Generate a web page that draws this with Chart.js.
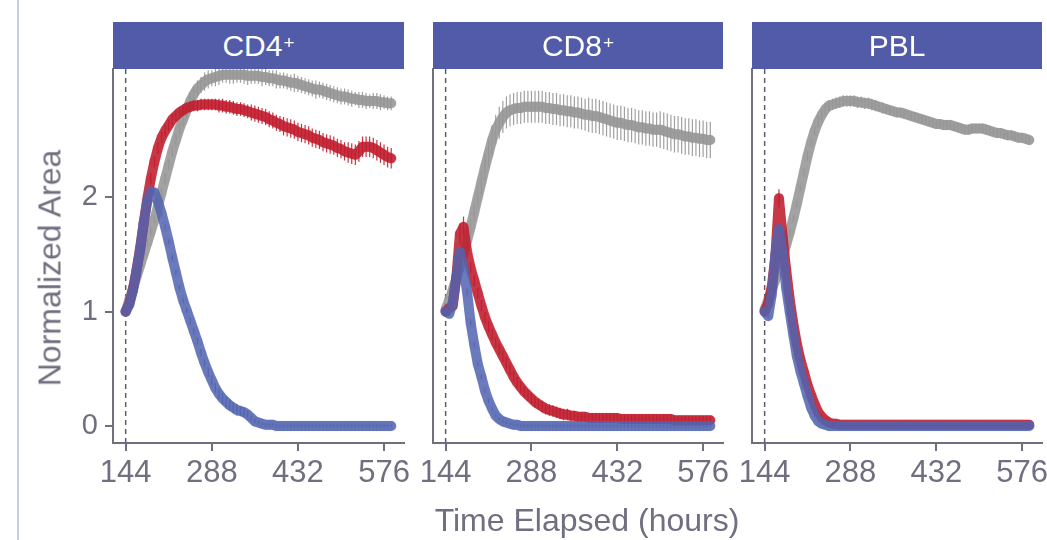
<!DOCTYPE html>
<html>
<head>
<meta charset="utf-8">
<script src="https://cdn.jsdelivr.net/npm/chart.js@4.4.1/dist/chart.umd.min.js"></script>
<style>
  html, body { margin: 0; padding: 0; background: #fff; overflow: hidden; }
  body { width: 1047px; height: 540px; position: relative; font-family: "Liberation Sans", Arial, sans-serif; }
  canvas { position: absolute; top: 0; }
  .edge { position: absolute; left: 17px; top: 0; width: 2px; height: 540px; background: #c8cdea; }
  .strip { position: absolute; top: 22px; height: 47px; background: #525ba7; color: #fff;
           font-size: 30px; display: flex; align-items: center; justify-content: center; }
  .strip sup { font-size: 19px; position: relative; top: -3px; margin-left: 1px; }
  .ytitle { position: absolute; left: 50px; top: 268px; transform: translate(-50%, -50%) rotate(-90deg);
            white-space: nowrap; font-size: 32px; color: #6f6f80; }
  .xtitle { position: absolute; left: 587px; top: 520px; transform: translate(-50%, -50%);
            white-space: nowrap; font-size: 32px; color: #6f6f80; }
</style>
</head>
<body>
<div class="edge"></div>
<canvas id="p1" width="420" height="540" style="left:0px"></canvas>
<canvas id="p2" width="330" height="540" style="left:410px"></canvas>
<canvas id="p3" width="330" height="540" style="left:730px"></canvas>
<div class="strip" style="left:113px;width:291px">CD4<sup>+</sup></div>
<div class="strip" style="left:433px;width:290px">CD8<sup>+</sup></div>
<div class="strip" style="left:752px;width:290px">PBL</div>
<div class="ytitle">Normalized Area</div>
<div class="xtitle">Time Elapsed (hours)</div>
<script>
// time points (hours)
const hours = [144,150,156,162,168,174,180,186,192,198,
  204,210,216,222,228,234,240,246,252,258,
  264,270,276,282,288,294,300,306,312,318,
  324,330,336,342,348,354,360,366,372,378,
  384,390,396,402,408,414,420,426,432,438,
  444,450,456,462,468,474,480,486,492,498,
  504,510,516,522,528,534,540,546,552,558,
  564,570,576,582,588]

const xTicks = [144, 288, 432, 576]
const yTicks = [0, 1, 2]

// CD4+
const cd4Gray = [1.00,1.10,1.20,1.30,1.40,1.50,1.60,1.70,1.80,1.92,
  2.04,2.16,2.28,2.40,2.50,2.60,2.68,2.76,2.84,2.90,
  2.95,2.98,3.01,3.03,3.04,3.05,3.06,3.07,3.07,3.07,
  3.07,3.07,3.07,3.07,3.06,3.06,3.06,3.06,3.05,3.05,
  3.04,3.04,3.03,3.02,3.02,3.01,3.00,3.00,2.99,2.98,
  2.97,2.96,2.95,2.94,2.94,2.93,2.92,2.91,2.90,2.89,
  2.88,2.88,2.87,2.86,2.86,2.85,2.85,2.84,2.84,2.84,
  2.84,2.83,2.83,2.82,2.82]
const cd4GrayErr = [.02,.02,.02,.02,.02,.03,.03,.03,.03,.04,
  .04,.05,.05,.05,.06,.06,.06,.07,.07,.07,
  .07,.07,.08,.08,.07,.08,.08,.07,.07,.08,
  .08,.07,.07,.08,.08,.07,.07,.07,.08,.07,
  .07,.07,.08,.07,.07,.07,.07,.08,.07,.07,
  .07,.07,.07,.08,.07,.07,.07,.07,.07,.07,
  .07,.07,.07,.07,.06,.07,.07,.07,.06,.07,
  .07,.07,.06,.06,.06]
const cd4Red = [1.00,1.07,1.19,1.36,1.55,1.77,1.98,2.16,2.31,2.43,
  2.52,2.58,2.63,2.68,2.71,2.74,2.76,2.78,2.79,2.80,
  2.80,2.81,2.81,2.81,2.81,2.81,2.80,2.80,2.79,2.79,
  2.78,2.77,2.77,2.76,2.75,2.74,2.73,2.72,2.71,2.70,
  2.68,2.67,2.65,2.64,2.62,2.61,2.60,2.59,2.57,2.56,
  2.55,2.54,2.52,2.51,2.50,2.48,2.47,2.46,2.45,2.43,
  2.42,2.40,2.39,2.38,2.37,2.40,2.44,2.44,2.44,2.43,
  2.41,2.39,2.37,2.35,2.34]
const cd4RedErr = [.02,.03,.03,.03,.04,.04,.04,.05,.05,.05,
  .05,.05,.05,.05,.05,.05,.05,.05,.05,.05,
  .05,.05,.05,.05,.05,.05,.06,.06,.06,.06,
  .06,.06,.06,.06,.06,.07,.07,.07,.07,.07,
  .07,.07,.07,.07,.08,.08,.08,.08,.08,.08,
  .08,.08,.08,.08,.08,.08,.08,.08,.08,.08,
  .08,.08,.09,.09,.09,.09,.09,.09,.09,.09,
  .09,.09,.09,.09,.09]
const cd4Blue = [1.00,1.06,1.18,1.35,1.53,1.77,1.96,2.05,2.04,1.96,
  1.86,1.74,1.61,1.47,1.34,1.21,1.10,1.01,0.92,0.83,
  0.74,0.64,0.55,0.47,0.40,0.33,0.28,0.24,0.21,0.18,
  0.16,0.14,0.13,0.12,0.10,0.07,0.04,0.03,0.02,0.01,
  0.01,0.01,0.00,0.00,0.00,0.00,0.00,0.00,0.00,0.00,
  0.00,0.00,0.00,0.00,0.00,0.00,0.00,0.00,0.00,0.00,
  0.00,0.00,0.00,0.00,0.00,0.00,0.00,0.00,0.00,0.00,
  0.00,0.00,0.00,0.00,0.00]
const cd4BlueErr = [.02,.02,.02,.03,.03,.03,.03,.03,.03,.02,
  .02,.02,.02,.02,.02,.02,.02,.02,.03,.03,
  .03,.03,.03,.04,.04,.04,.05,.05,.05,.05,
  .05,.05,.04,.04,.03,.02,.02,.01,.01,.01,
  .01,.01,.01,.01,.01,.01,.01,.01,.01,.01,
  .01,.01,.01,.01,.01,.01,.01,.01,.01,.01,
  .01,.01,.01,.01,.01,.01,.01,.01,.01,.01,
  .01,.01,.01,.01,.01]

// CD8+
const cd8Gray = [1.02,1.10,1.19,1.29,1.40,1.51,1.62,1.74,1.87,2.00,
  2.13,2.26,2.38,2.50,2.59,2.65,2.70,2.74,2.76,2.77,
  2.78,2.78,2.79,2.79,2.79,2.79,2.79,2.79,2.78,2.78,
  2.77,2.77,2.76,2.76,2.75,2.75,2.74,2.74,2.73,2.72,
  2.72,2.71,2.71,2.70,2.69,2.68,2.67,2.66,2.65,2.65,
  2.64,2.63,2.63,2.62,2.61,2.61,2.60,2.60,2.59,2.59,
  2.59,2.58,2.57,2.56,2.55,2.55,2.54,2.53,2.53,2.52,
  2.52,2.51,2.51,2.50,2.50]
const cd8GrayErr = [.03,.03,.04,.04,.05,.05,.06,.07,.08,.09,
  .10,.11,.12,.13,.13,.14,.14,.14,.14,.14,
  .14,.14,.14,.14,.14,.14,.14,.14,.14,.14,
  .14,.14,.14,.14,.14,.14,.14,.14,.14,.14,
  .15,.15,.15,.15,.15,.15,.15,.15,.15,.15,
  .15,.15,.15,.15,.15,.15,.15,.15,.15,.15,
  .16,.16,.16,.16,.16,.16,.16,.16,.16,.16,
  .16,.16,.16,.16,.16]
const cd8Red = [1.00,1.03,1.05,1.30,1.68,1.74,1.52,1.38,1.27,1.16,
  1.05,0.95,0.87,0.80,0.73,0.67,0.61,0.55,0.49,0.43,
  0.38,0.34,0.30,0.27,0.24,0.21,0.19,0.17,0.15,0.14,
  0.13,0.12,0.11,0.10,0.10,0.09,0.09,0.08,0.08,0.08,
  0.07,0.07,0.07,0.07,0.07,0.07,0.07,0.07,0.07,0.06,
  0.06,0.06,0.06,0.06,0.06,0.06,0.06,0.06,0.06,0.06,
  0.06,0.06,0.06,0.06,0.05,0.05,0.05,0.05,0.05,0.05,
  0.05,0.05,0.05,0.05,0.05]
const cd8RedErr = [.02,.03,.04,.06,.09,.09,.06,.05,.05,.05,
  .05,.05,.05,.05,.05,.05,.05,.05,.05,.05,
  .05,.05,.05,.05,.05,.05,.05,.05,.05,.05,
  .05,.05,.05,.05,.05,.04,.04,.04,.04,.04,
  .04,.04,.04,.04,.04,.04,.04,.04,.04,.04,
  .04,.04,.04,.04,.04,.04,.04,.04,.04,.04,
  .04,.04,.04,.04,.04,.04,.04,.04,.04,.04,
  .04,.04,.04,.04,.04]
const cd8Blue = [1.00,0.98,1.08,1.30,1.52,1.38,1.17,0.90,0.71,0.54,
  0.43,0.31,0.22,0.15,0.09,0.06,0.04,0.03,0.02,0.01,
  0.01,0.00,0.00,0.00,0.00,0.00,0.00,0.00,0.00,0.00,
  0.00,0.00,0.00,0.00,0.00,0.00,0.00,0.00,0.00,0.00,
  0.00,0.00,0.00,0.00,0.00,0.00,0.00,0.00,0.00,0.00,
  0.00,0.00,0.00,0.00,0.00,0.00,0.00,0.00,0.00,0.00,
  0.00,0.00,0.00,0.00,0.00,0.00,0.00,0.00,0.00,0.00,
  0.00,0.00,0.00,0.00,0.00]
const cd8BlueErr = [.02,.02,.02,.03,.04,.03,.03,.02,.02,.02,
  .02,.02,.02,.02,.01,.01,.01,.01,.01,.01,
  .01,.01,.01,.01,.01,.01,.01,.01,.01,.01,
  .01,.01,.01,.01,.01,.01,.01,.01,.01,.01,
  .01,.01,.01,.01,.01,.01,.01,.01,.01,.01,
  .01,.01,.01,.01,.01,.01,.01,.01,.01,.01,
  .01,.01,.01,.01,.01,.01,.01,.01,.01,.01,
  .01,.01,.01,.01,.01]

// PBL
const pblGray = [1.02,1.10,1.19,1.28,1.38,1.47,1.58,1.69,1.81,1.94,
  2.08,2.22,2.36,2.48,2.58,2.66,2.72,2.77,2.80,2.81,
  2.82,2.83,2.84,2.84,2.84,2.84,2.83,2.83,2.82,2.82,
  2.81,2.80,2.79,2.78,2.77,2.76,2.75,2.74,2.74,2.73,
  2.72,2.71,2.70,2.69,2.68,2.67,2.66,2.65,2.64,2.64,
  2.63,2.63,2.63,2.62,2.61,2.60,2.59,2.59,2.60,2.60,
  2.60,2.60,2.59,2.58,2.57,2.56,2.56,2.55,2.54,2.54,
  2.53,2.52,2.52,2.51,2.50]
const pblGrayErr = [.02,.02,.02,.02,.02,.02,.03,.03,.03,.03,
  .03,.03,.04,.04,.04,.05,.05,.05,.05,.05,
  .05,.05,.05,.05,.05,.05,.05,.05,.05,.05,
  .05,.05,.04,.05,.04,.04,.04,.04,.04,.04,
  .04,.04,.04,.04,.04,.04,.04,.04,.04,.04,
  .04,.04,.04,.04,.04,.04,.04,.04,.04,.04,
  .04,.04,.04,.04,.04,.04,.04,.04,.04,.04,
  .04,.04,.04,.04,.04]
const pblRed = [1.00,1.07,1.22,1.48,1.99,1.67,1.37,1.11,0.90,0.72,
  0.58,0.47,0.36,0.27,0.19,0.12,0.08,0.05,0.03,0.02,
  0.02,0.01,0.01,0.01,0.01,0.01,0.01,0.01,0.01,0.01,
  0.01,0.01,0.01,0.01,0.01,0.01,0.01,0.01,0.01,0.01,
  0.01,0.01,0.01,0.01,0.01,0.01,0.01,0.01,0.01,0.01,
  0.01,0.01,0.01,0.01,0.01,0.01,0.01,0.01,0.01,0.01,
  0.01,0.01,0.01,0.01,0.01,0.01,0.01,0.01,0.01,0.01,
  0.01,0.01,0.01,0.01,0.01]
const pblRedErr = [.02,.02,.03,.05,.08,.05,.04,.03,.02,.02,
  .02,.02,.02,.02,.02,.02,.02,.01,.01,.01,
  .01,.01,.01,.01,.01,.01,.01,.01,.01,.01,
  .01,.01,.01,.01,.01,.01,.01,.01,.01,.01,
  .01,.01,.01,.01,.01,.01,.01,.01,.01,.01,
  .01,.01,.01,.01,.01,.01,.01,.01,.01,.01,
  .01,.01,.01,.01,.01,.01,.01,.01,.01,.01,
  .01,.01,.01,.01,.01]
const pblBlue = [1.00,0.96,1.15,1.50,1.72,1.52,1.21,1.00,0.80,0.61,
  0.48,0.37,0.26,0.16,0.09,0.04,0.02,0.01,0.00,0.00,
  0.00,0.00,0.00,0.00,0.00,0.00,0.00,0.00,0.00,0.00,
  0.00,0.00,0.00,0.00,0.00,0.00,0.00,0.00,0.00,0.00,
  0.00,0.00,0.00,0.00,0.00,0.00,0.00,0.00,0.00,0.00,
  0.00,0.00,0.00,0.00,0.00,0.00,0.00,0.00,0.00,0.00,
  0.00,0.00,0.00,0.00,0.00,0.00,0.00,0.00,0.00,0.00,
  0.00,0.00,0.00,0.00,0.00]
const pblBlueErr = [.02,.02,.02,.04,.05,.04,.03,.02,.02,.02,
  .01,.01,.01,.01,.01,.01,.01,.01,.01,.01,
  .01,.01,.01,.01,.01,.01,.01,.01,.01,.01,
  .01,.01,.01,.01,.01,.01,.01,.01,.01,.01,
  .01,.01,.01,.01,.01,.01,.01,.01,.01,.01,
  .01,.01,.01,.01,.01,.01,.01,.01,.01,.01,
  .01,.01,.01,.01,.01,.01,.01,.01,.01,.01,
  .01,.01,.01,.01,.01]

const colors = {
  gray: { band: "rgba(150, 150, 150, 0.88)", point: "rgba(150, 150, 150, 0.15)", bar: "rgba(150, 150, 150, 0.9)" },
  red: { band: "rgba(192, 30, 46, 0.88)", point: "rgba(192, 30, 46, 0.15)", bar: "rgba(192, 30, 46, 0.9)" },
  blue: { band: "rgba(82, 100, 176, 0.85)", point: "rgba(82, 100, 176, 0.15)", bar: "rgba(82, 100, 176, 0.9)" },
}
const axisColor = "#6f6f80"
const textColor = "#6f6f80"

Chart.defaults.font.family = "'Liberation Sans', Arial, sans-serif"

// errorbars + dashed line at the start time
const errorBars = {
  id: "errorBars",
  beforeDatasetsDraw(chart) {
    const { ctx, chartArea, scales: { x, y } } = chart
    ctx.save()
    ctx.beginPath()
    ctx.rect(chartArea.left, chartArea.top, chartArea.right - chartArea.left, chartArea.bottom - chartArea.top)
    ctx.clip()
    ctx.setLineDash([5, 4])
    ctx.strokeStyle = "#5c5c6c"
    ctx.lineWidth = 1.5
    const xs = x.getPixelForValue(144)
    ctx.beginPath()
    ctx.moveTo(xs, chartArea.top)
    ctx.lineTo(xs, chartArea.bottom)
    ctx.stroke()
    ctx.setLineDash([])
    ctx.lineWidth = 1.2
    for (let i = chart.data.datasets.length - 1; i >= 0; i--) {
      const ds = chart.data.datasets[i]
      ctx.strokeStyle = ds.barColor
      ds.data.forEach((p, j) => {
        const e = ds.err[j]
        if (!e) return
        const px = x.getPixelForValue(p.x)
        ctx.beginPath()
        ctx.moveTo(px, y.getPixelForValue(p.y - e))
        ctx.lineTo(px, y.getPixelForValue(p.y + e))
        ctx.stroke()
      })
    }
    ctx.restore()
  },
}

function series(values, err, c) {
  return {
    data: hours.map((h, i) => ({ x: h, y: values[i] })),
    err: err,
    barColor: c.bar,
    showLine: true,
    borderColor: c.band,
    borderWidth: 10,
    borderCapStyle: "round",
    borderJoinStyle: "round",
    tension: 0,
    backgroundColor: c.point,
    pointBorderWidth: 0,
    pointRadius: 5.5,
  }
}

function panel(id, sets, yWidth, padRight, showY) {
  return new Chart(document.getElementById(id), {
    type: "scatter",
    data: { datasets: sets },
    options: {
      responsive: false,
      animation: false,
      layout: { padding: { top: 69, right: padRight, bottom: 0, left: 0 } },
      plugins: { legend: { display: false }, tooltip: { enabled: false } },
      scales: {
        x: {
          type: "linear",
          min: 122.8,
          max: 609.4,
          afterBuildTicks: (s) => { s.ticks = xTicks.map((v) => ({ value: v })) },
          afterFit: (s) => { s.height = 97 },
          grid: { drawOnChartArea: false, drawTicks: true, tickLength: 8, color: axisColor, lineWidth: 2 },
          border: { display: true, color: axisColor, width: 2 },
          ticks: { color: textColor, font: { size: 31 }, padding: 4, maxRotation: 0, autoSkip: false },
        },
        y: {
          type: "linear",
          min: -0.149,
          max: 3.12,
          afterBuildTicks: (s) => { s.ticks = yTicks.map((v) => ({ value: v })) },
          afterFit: (s) => { s.width = yWidth },
          grid: { drawOnChartArea: false, drawTicks: showY, tickLength: 8, color: axisColor, lineWidth: 2 },
          border: { display: true, color: axisColor, width: 2 },
          ticks: { display: showY, color: textColor, font: { size: 29 }, padding: 7 },
        },
      },
    },
    plugins: [errorBars],
  })
}

panel("p1", [
  series(cd4Blue, cd4BlueErr, colors.blue),
  series(cd4Red, cd4RedErr, colors.red),
  series(cd4Gray, cd4GrayErr, colors.gray),
], 113, 16, true)

panel("p2", [
  series(cd8Blue, cd8BlueErr, colors.blue),
  series(cd8Red, cd8RedErr, colors.red),
  series(cd8Gray, cd8GrayErr, colors.gray),
], 23, 17, false)

panel("p3", [
  series(pblBlue, pblBlueErr, colors.blue),
  series(pblRed, pblRedErr, colors.red),
  series(pblGray, pblGrayErr, colors.gray),
], 22, 18, false)
</script>
</body>
</html>
